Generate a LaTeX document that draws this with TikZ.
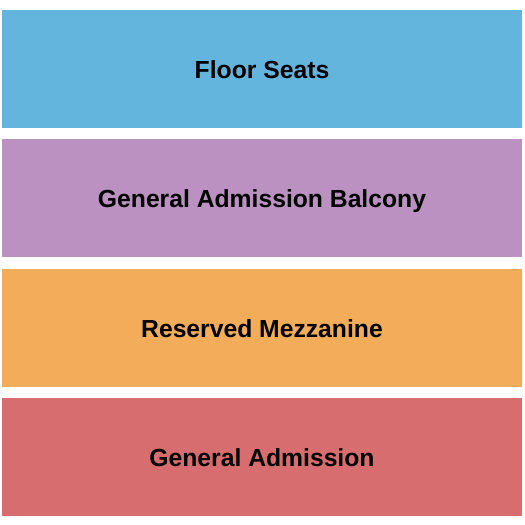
\documentclass[tikz,border=0pt]{standalone}
\usepackage{fontspec}
\setmainfont{Liberation Sans}
\usetikzlibrary{positioning}
\definecolor{floorblue}{RGB}{99,181,221}
\definecolor{balconypurple}{RGB}{186,145,193}
\definecolor{mezzorange}{RGB}{243,173,90}
\definecolor{gared}{RGB}{215,109,110}
\begin{document}
\begin{tikzpicture}[
        x = 1pt, y = -1pt,
        node distance = {11pt},
        band/.style = {rectangle, inner sep=0pt, minimum width=520pt, minimum height=118pt,
                       text height=19pt, text depth=0pt,
                       font=\fontsize{24.7}{29}\selectfont\bfseries, text=black}
    ]
    \useasboundingbox (0,0) rectangle (525,525);
    %--- Draw Sections ---%
        \node (floor) [band, fill=floorblue] at (262,69) {Floor Seats};
        \node (balcony) [band, fill=balconypurple, below = of floor] {General Admission Balcony};
        \node (mezz) [band, fill=mezzorange, below = of balcony] {Reserved Mezzanine};
        \node (ga) [band, fill=gared, below = of mezz] {General Admission};
    \end{tikzpicture}
\end{document}
